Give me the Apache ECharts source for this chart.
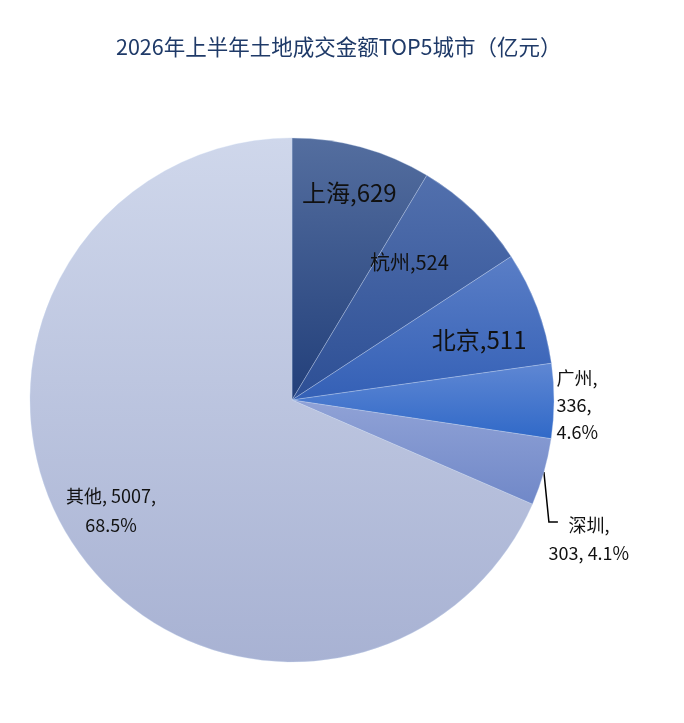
<!DOCTYPE html>
<html>
<head>
<meta charset="utf-8">
<title>2026年上半年土地成交金额TOP5城市</title>
<script src="https://cdn.jsdelivr.net/npm/echarts@6/dist/echarts.min.js"></script>
<style>
    html, body { margin: 0; padding: 0; background: #fff; }
    #main { width: 684px; height: 723px; }
</style>
</head>
<body>
<div id="main"></div>
<script>
// 数据
var cities = ['上海', '杭州', '北京', '广州', '深圳', '其他'];
var amounts = [629, 524, 511, 336, 303, 5007];

// 每块扇形的上下渐变色
var topColors = ['#546e9f', '#5270ad', '#5a7ec6', '#5f87d3', '#90a2d6', '#cfd7eb'];
var bottomColors = ['#223f7a', '#2d4f95', '#3460b6', '#3069c8', '#7088c8', '#a8b2d3'];

// 标签：[半径比例, 角度偏移(度)]
var labelSpots = [
    [0.82, 0],
    [0.69, -3.4],
    [0.75, 2.9],
    [1.01, 0],
    [1.00, 0],
    [0.81, 1.8]
];

var cx = 292, cy = 400, R = 262;

~function () {
    var myChart = echarts.init(document.getElementById('main'));
    var total = amounts.reduce(function (a, b) { return a + b; }, 0);

    // 各扇形中线角度（从正上方顺时针）
    var midAngles = [];
    var acc = 0;
    amounts.forEach(function (v) {
        midAngles.push((acc + v / 2) / total * 360);
        acc += v;
    });

    function pct(v) {
        return (v / total * 100).toFixed(1) + '%';
    }

    var labelTexts = [
        cities[0] + ',' + amounts[0],
        cities[1] + ',' + amounts[1],
        cities[2] + ',' + amounts[2],
        cities[3] + ',\n' + amounts[3] + ',\n' + pct(amounts[3]),
        cities[4] + ',\n' + amounts[4] + ', ' + pct(amounts[4]),
        cities[5] + ', ' + amounts[5] + ',\n' + pct(amounts[5])
    ];
    var fontSizes = [24, 20, 24, 18, 18, 18];
    var lineHeights = [30, 24, 30, 27, 28, 29];
    var inside = [true, true, true, false, false, true];

    var data = cities.map(function (name, i) {
        return {
            name: name,
            value: amounts[i],
            itemStyle: {
                color: {
                    type: 'linear', x: 0, y: 0, x2: 0, y2: 1,
                    colorStops: [
                        {offset: 0, color: topColors[i]},
                        {offset: 1, color: bottomColors[i]}
                    ]
                }
            },
            label: {
                position: inside[i] ? 'inside' : 'outside',
                formatter: labelTexts[i],
                fontSize: fontSizes[i],
                lineHeight: lineHeights[i],
                align: i === 3 ? 'left' : 'center',
                overflow: 'none'
            },
            labelLine: {
                show: i === 4
            }
        };
    });

    var option = {
        title: {
            text: '2026年上半年土地成交金额TOP5城市（亿元）',
            left: 111,
            top: 31,
            textStyle: {
                fontSize: 21.5,
                fontWeight: 'normal',
                color: '#1f3a68',
                fontFamily: 'Noto Sans CJK SC'
            }
        },
        series: [
            {
                name: '土地成交金额',
                type: 'pie',
                center: [cx, cy],
                radius: R,
                startAngle: 90,
                clockwise: true,
                animation: false,
                itemStyle: {
                    borderColor: 'rgba(200,215,240,0.55)',
                    borderWidth: 0.6
                },
                label: {
                    show: true,
                    color: '#111',
                    fontFamily: 'Noto Sans CJK SC'
                },
                labelLine: {
                    lineStyle: {color: '#000', width: 1.5}
                },
                labelLayout: function (params) {
                    var i = params.dataIndex;
                    var spot = labelSpots[i];
                    var a = (midAngles[i] + spot[1]) * Math.PI / 180;
                    var x = cx + spot[0] * R * Math.sin(a);
                    var y = cy - spot[0] * R * Math.cos(a);
                    if (i === 3) {
                        return {x: x, y: y + 4, align: 'left', verticalAlign: 'middle'};
                    }
                    if (i === 4) {
                        // 引导线：扇形边缘 -> 向下 -> 向右到文字
                        var lx = x + 45, ly = y + 67;
                        return {
                            x: lx, y: ly, align: 'center', verticalAlign: 'middle',
                            labelLinePoints: [[x, y], [x + 5, ly - 17], [lx - 31, ly - 17]]
                        };
                    }
                    return {x: x, y: y, align: 'center', verticalAlign: 'middle'};
                },
                data: data
            }
        ]
    };
    myChart.setOption(option);
}();
</script>
</body>
</html>
